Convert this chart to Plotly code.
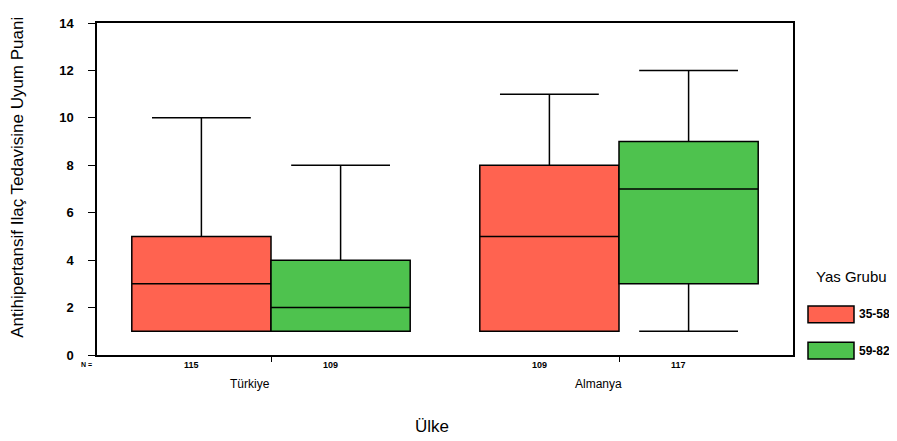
import plotly.graph_objects as go

# ---- data ----
countries = ["Türkiye", "Almanya"]
age_groups = ["35-58", "59-82"]
n_counts = {"35-58": [115, 109], "59-82": [109, 117]}
q1 = {"35-58": [1, 1], "59-82": [1, 3]}
median = {"35-58": [3, 5], "59-82": [2, 7]}
q3 = {"35-58": [5, 8], "59-82": [4, 9]}
lower = {"35-58": [1, 1], "59-82": [1, 1]}
upper = {"35-58": [10, 11], "59-82": [8, 12]}
colors = {"35-58": "#FF6350", "59-82": "#4EC24E"}
y_ticks = [0, 2, 4, 6, 8, 10, 12, 14]

# page body has an 8px margin; compensate so the figure fills the 897x441 window
OFF = 8
W, H = 897 - OFF, 441 - OFF
L, R, T, B = 97, 793, 16, 355  # plot area in window pixels


def px(xp):
    return (xp - L) / (R - L)


def py(yp):
    return (B - yp) / (B - T)


xpos = list(range(len(countries)))
fig = go.Figure()
for g in age_groups:
    fig.add_trace(go.Box(
        name=g, x=xpos, q1=q1[g], median=median[g], q3=q3[g],
        lowerfence=lower[g], upperfence=upper[g],
        fillcolor=colors[g], line=dict(color="black", width=1.5),
        whiskerwidth=0.71, boxpoints=False, showlegend=False,
        hoverinfo="skip",
    ))

font = "Arial, Liberation Sans, sans-serif"
ann = []
box_w = 0.4
for gi, g in enumerate(age_groups):
    off = (gi - 0.5) * box_w
    for ci, c in enumerate(countries):
        ann.append(dict(xref="x", yref="paper", x=ci + off, y=py(365), xshift=-10,
                        text=str(n_counts[g][ci]), showarrow=False,
                        font=dict(family=font, size=9, color="black", weight="bold"),
                        yanchor="middle", xanchor="center"))
for ci, c in enumerate(countries):
    ann.append(dict(xref="x", yref="paper", x=ci, y=py(385), xshift=-21,
                    text=c, showarrow=False,
                    font=dict(family=font, size=12, color="black"),
                    yanchor="middle", xanchor="center"))
ann.append(dict(xref="paper", yref="paper", x=px(86), y=py(365), text="N =",
                showarrow=False, font=dict(family=font, size=7, color="black", weight="bold"),
                xanchor="center", yanchor="middle"))
ann.append(dict(xref="paper", yref="paper", x=px(432), y=py(428), text="Ülke",
                showarrow=False, font=dict(family=font, size=17, color="black"),
                xanchor="center", yanchor="middle"))
ann.append(dict(xref="paper", yref="paper", x=px(18), y=py(174),
                text="Antihipertansif Ilaç Tedavisine Uyum Puani", textangle=-90,
                showarrow=False, font=dict(family=font, size=17, color="black"),
                xanchor="center", yanchor="middle"))
# legend
ann.append(dict(xref="paper", yref="paper", x=px(851), y=py(275), text="Yas Grubu",
                showarrow=False, font=dict(family=font, size=15, color="black"),
                xanchor="center", yanchor="middle"))
shapes = []
leg_y = [(305, 322), (342, 359)]
for g, (y0, y1) in zip(age_groups, leg_y):
    shapes.append(dict(type="rect", xref="paper", yref="paper",
                       x0=px(808), x1=px(854), y0=py(y1), y1=py(y0),
                       fillcolor=colors[g], line=dict(color="black", width=1.5)))
    ann.append(dict(xref="paper", yref="paper", x=px(857), y=py((y0 + y1) / 2), text=g,
                    showarrow=False, font=dict(family=font, size=12, color="black", weight="bold"),
                    xanchor="left", yanchor="middle"))

fig.update_layout(
    width=W, height=H,
    margin=dict(l=L - OFF, r=897 - R, t=T - OFF, b=441 - B, pad=0),
    paper_bgcolor="white", plot_bgcolor="white",
    boxmode="group", boxgap=0.2, boxgroupgap=0,
    annotations=ann, shapes=shapes,
    font=dict(family=font, color="black"),
)
fig.update_xaxes(range=[-0.5, 1.5], tickvals=xpos, ticktext=["", ""], ticks="outside",
                 ticklen=5, tickcolor="black", showline=True, linecolor="black", linewidth=1.5,
                 mirror=True, showgrid=False, zeroline=False)
fig.update_yaxes(range=[0, 14], tickvals=y_ticks, ticks="outside", ticklen=7,
                 tickcolor="black", showline=True, linecolor="black", linewidth=1.5,
                 mirror=True, showgrid=False, zeroline=False, ticklabelstandoff=12,
                 tickfont=dict(family=font, size=13, color="black", weight="bold"))

fig.write_html("out.html")
